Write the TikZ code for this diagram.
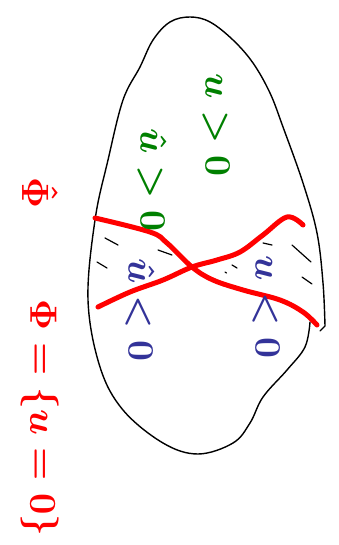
\documentclass[tikz,border=0pt]{standalone}
\usepackage{amsmath}
\definecolor{pengreen}{RGB}{0,128,0}
\definecolor{penblue}{RGB}{51,51,153}
\definecolor{penred}{RGB}{255,0,0}
\tikzset{
  outline/.style={line width=1.4pt, black, line cap=round},
  cut/.style={line width=5pt, penred, line cap=round},
  hatch/.style={line width=1.2pt, black, line cap=round},
  lbl/.style={rotate=-90, inner sep=0pt, scale=1.5, font=\Huge\boldmath},
  biglbl/.style={lbl, penred, scale=1.02},
}
\begin{document}
\begin{tikzpicture}[x=1pt,y=1pt]
\useasboundingbox (0,0) rectangle (339,-545);
% outline of the region
\draw[outline] plot[smooth, tension=0.6] coordinates {
  (310,-322) (305,-347) (287,-370) (263,-397) (250,-423) (233,-443)
  (198,-454) (163,-443) (123,-410) (100,-367) (88,-300) (95,-220)
  (108,-160) (123,-100) (140,-67) (153,-40) (170,-22) (190,-17)
  (210,-22) (233,-40) (253,-63) (270,-93) (283,-127) (303,-183)
  (317,-233) (323,-283) (325,-326)} -- (320,-331);
% hatching
\draw[hatch] (105,-238) -- (118,-245);
\draw[hatch] (158,-250) -- (172,-255);
\draw[hatch] (97,-262) -- (107,-268);
\draw[hatch] (225,-272) -- (226.5,-273);
\draw[hatch] (232,-265) -- (237,-268);
\draw[hatch] (263,-243) -- (272,-245);
\draw[hatch] (292,-245) -- (311,-262);
\draw[hatch] (302,-277) -- (312,-284);
% the two red curves
\draw[cut] plot[smooth, tension=0.6] coordinates {
  (95,-218) (150,-232) (167,-243) (192,-267) (213,-280) (243,-290)
  (280,-300) (303,-312) (317,-325)};
\draw[cut] plot[smooth, tension=0.6] coordinates {
  (98,-307) (130,-292) (163,-280) (192,-267) (217,-260) (240,-252)
  (263,-235) (287,-217) (303,-225)};
% labels
\node[lbl, pengreen] (gr) at (216,-125) {$u>0$};
\node[lbl, pengreen] (gl) at (152,-180) {$\hat u>0$};
\node[lbl, penblue] (bl) at (140,-310) {$\hat u<0$};
\node[lbl, penblue] (br) at (266,-307) {$u<0$};
\node[biglbl] (phi) at (40,-418) {$\Phi=\{u=0\}$};
\node[biglbl] (phihat) at (40,-193) {$\hat\Phi$};
\end{tikzpicture}
\end{document}
